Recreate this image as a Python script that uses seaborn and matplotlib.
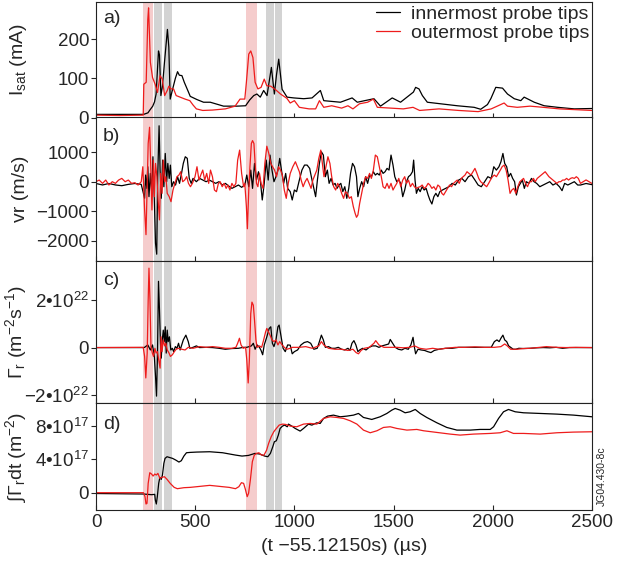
import numpy as np
import pandas as pd
import matplotlib
matplotlib.use("Agg")
import matplotlib.pyplot as plt
import seaborn as sns

# (time in us, value) pairs
ISAT_IN = [(0, 8), (120, 8), (240, 8), (262, 12), (270, 18), (286, 29), (295, 40), (303, 60),
           (315, 170), (320, 160), (327, 56), (335, 80), (345, 140), (360, 225), (367, 180),
           (374, 47), (385, 70), (400, 100), (411, 117), (420, 108), (433, 107), (445, 90),
           (466, 65), (475, 54), (508, 46), (542, 39), (576, 39), (643, 29), (711, 29), (754, 30),
           (775, 45), (795, 56), (811, 60), (828, 52), (845, 69), (862, 56), (884, 128), (899, 60),
           (910, 110), (921, 149), (938, 72), (963, 52), (997, 50), (1047, 48), (1089, 50),
           (1131, 69), (1148, 43), (1232, 39), (1291, 50), (1317, 39), (1401, 48), (1434, 29),
           (1493, 50), (1535, 39), (1600, 65), (1611, 77), (1628, 73), (1645, 56), (1670, 39),
           (1737, 35), (1821, 30), (1906, 26), (1939, 21), (1973, 33), (1990, 48), (2015, 77),
           (2049, 75), (2074, 60), (2108, 48), (2141, 43), (2158, 52), (2209, 39), (2259, 30),
           (2327, 26), (2411, 22), (2500, 23)]
ISAT_OUT = [(0, 6), (120, 5), (238, 6), (241, 85), (253, 90), (261, 250), (265, 280), (274, 141),
            (285, 102), (298, 85), (310, 64), (323, 107), (334, 98), (346, 56), (359, 69), (367, 80),
            (378, 73), (391, 73), (404, 56), (424, 52), (449, 47), (473, 43), (489, 32), (506, 22),
            (538, 18), (587, 19), (652, 22), (701, 29), (726, 47), (750, 47), (758, 90), (770, 162),
            (780, 170), (791, 153), (802, 90), (816, 73), (832, 77), (848, 98), (861, 81), (881, 80),
            (905, 71), (930, 60), (962, 49), (979, 37), (1000, 43), (1025, 26), (1074, 22),
            (1107, 22), (1126, 43), (1148, 26), (1188, 30), (1238, 24), (1270, 30), (1295, 22),
            (1328, 35), (1369, 39), (1398, 47), (1418, 26), (1484, 24), (1549, 22), (1598, 26),
            (1631, 18), (1729, 22), (1828, 18), (1926, 15), (1992, 22), (2057, 37), (2074, 29),
            (2123, 26), (2188, 29), (2254, 26), (2336, 22), (2500, 18)]

VR_IN = [(0, -60), (33, -110), (65, -60), (98, -110), (130, -135), (163, -90), (196, -60), (228, -90),
         (245, -560), (250, 225), (256, -225), (261, 505), (267, -505), (274, 280), (281, -390),
         (287, 843), (294, -618), (300, -2080), (306, -2450), (311, 170), (318, 1890), (323, 393),
         (329, -560), (336, 730), (342, -170), (349, 955), (356, 0), (362, 618), (369, 112),
         (375, 560), (382, -170), (391, 0), (401, -112), (411, 170), (421, -56), (431, 280),
         (440, 618), (450, 843), (460, 790), (470, 112), (480, -56), (489, 112), (506, 0),
         (522, 112), (538, 56), (555, 0), (571, 56), (587, 0), (603, -56), (620, 0), (636, -112),
         (652, -56), (669, -146), (685, -225), (701, -169), (718, -112), (734, -190), (750, -112),
         (760, 225), (770, -169), (780, 393), (789, -225), (799, 618), (809, 56), (819, 337),
         (829, 0), (838, -618), (848, -56), (858, 730), (868, 56), (877, 900), (887, 393), (897, 0),
         (907, 169), (917, 393), (926, 787), (936, 337), (946, -56), (956, 280), (966, -225),
         (979, -337), (989, -618), (1000, -281), (1011, -337), (1025, 56), (1038, 393), (1051, 562),
         (1064, 562), (1077, 450), (1087, 112), (1098, -225), (1107, -506), (1116, 56), (1126, 618),
         (1136, 1011), (1146, 900), (1156, 169), (1166, 393), (1175, -56), (1185, 112), (1195, -112),
         (1205, -56), (1215, -225), (1225, -112), (1234, -56), (1244, -337), (1254, -169),
         (1264, -562), (1274, -225), (1283, 281), (1293, 618), (1303, 506), (1313, 169), (1320, -506),
         (1329, -225), (1339, 0), (1349, -169), (1359, 169), (1369, -56), (1379, 225), (1388, 169),
         (1398, 337), (1408, 225), (1418, 281), (1428, 225), (1438, 393), (1447, 281), (1457, 337),
         (1467, 450), (1477, 393), (1487, 900), (1497, 562), (1506, 169), (1516, 0), (1526, 56),
         (1536, -56), (1546, -506), (1556, -281), (1565, 0), (1575, 169), (1585, 225), (1595, 337),
         (1601, 730), (1608, 56), (1615, -393), (1624, -225), (1634, -337), (1644, -169),
         (1654, -281), (1664, -225), (1674, -450), (1683, -618), (1693, -753), (1703, -506),
         (1713, -393), (1723, -506), (1733, -337), (1746, -281), (1762, -225), (1779, -169),
         (1795, -56), (1811, -112), (1828, 56), (1844, 112), (1860, 0), (1877, 169), (1893, 225),
         (1910, 56), (1926, -112), (1942, -169), (1959, 0), (1975, 169), (1992, 112), (2005, 506),
         (2018, 393), (2031, 506), (2041, 675), (2051, 955), (2060, 618), (2070, 506), (2080, 169),
         (2090, 281), (2100, 112), (2110, 0), (2119, -450), (2129, -169), (2139, -56), (2149, 56),
         (2159, -225), (2169, 0), (2182, -56), (2195, 112), (2208, 0), (2221, -56), (2237, -169),
         (2254, -112), (2270, -56), (2287, 0), (2303, -112), (2319, -56), (2336, -169), (2349, -303),
         (2362, -56), (2378, -112), (2395, -56), (2411, 0), (2428, -112), (2442, -112), (2470, -60),
         (2500, -100)]
VR_OUT = [(0, 0), (16, 56), (33, -56), (49, 56), (65, -112), (82, 0), (98, -56), (114, 56), (130, 112),
          (147, 0), (163, 56), (179, -56), (196, -34), (212, -112), (228, 0), (236, 505), (245, -955),
          (252, -1790), (257, -393), (263, 1290), (270, 1840), (276, 505), (282, -955), (289, 730),
          (294, -505), (300, 618), (307, 169), (313, -618), (320, -1290), (326, 281), (333, -393),
          (339, 730), (346, 0), (352, 169), (359, -393), (369, -506), (378, -675), (388, -281),
          (398, -56), (408, 169), (418, 225), (427, 337), (437, 0), (447, 56), (457, 169), (466, -56),
          (476, -169), (486, -56), (499, 169), (509, 506), (519, 56), (528, 225), (538, 393), (548, 56),
          (558, 281), (568, -56), (577, 393), (587, 169), (597, -281), (607, -337), (617, -56),
          (626, 0), (636, -169), (646, -56), (656, -225), (665, -112), (675, -281), (685, -56),
          (695, -169), (705, -56), (714, 730), (724, 1068), (734, 281), (744, -169), (750, -56),
          (758, -843), (763, -1590), (770, -281), (776, 506), (783, 1290), (789, 1390), (796, 1290),
          (802, 618), (809, -56), (816, -169), (824, 281), (832, -56), (842, -225), (851, 618),
          (861, 1200), (871, 955), (881, 618), (890, 506), (900, 393), (910, 169), (920, 506),
          (930, 393), (939, 225), (949, -281), (959, -562), (969, -56), (979, 281), (992, 506),
          (1005, 675), (1015, 506), (1025, 337), (1034, 56), (1044, -169), (1054, 0), (1064, 112),
          (1074, -56), (1084, -225), (1093, 56), (1103, 225), (1113, 393), (1123, 787), (1133, 1068),
          (1139, 730), (1149, 169), (1159, 506), (1169, 843), (1179, 618), (1188, 169), (1198, -169),
          (1208, -281), (1218, -56), (1228, -169), (1238, -393), (1248, -562), (1257, -337),
          (1267, -393), (1277, -562), (1287, -506), (1297, -843), (1306, -1068), (1313, -1203),
          (1320, -1124), (1329, -731), (1339, -393), (1349, -56), (1359, 169), (1369, 112),
          (1379, 281), (1388, 112), (1398, 393), (1408, 900), (1418, 843), (1428, 506), (1438, 169),
          (1447, -169), (1457, -225), (1467, -56), (1477, -225), (1487, -56), (1497, -281),
          (1506, -169), (1516, -56), (1526, 112), (1536, -169), (1546, 56), (1556, 169), (1565, -56),
          (1575, 56), (1585, -169), (1595, -56), (1605, -169), (1614, -225), (1624, -190),
          (1634, -169), (1644, -112), (1654, -225), (1664, -169), (1674, -56), (1683, -112),
          (1693, -225), (1703, -169), (1713, -281), (1723, -112), (1733, -169), (1743, -393),
          (1752, -450), (1762, -337), (1772, -225), (1782, -112), (1792, -169), (1802, -56),
          (1811, 0), (1821, 56), (1831, -56), (1841, 112), (1851, 169), (1860, 225), (1870, 337),
          (1880, 281), (1890, 225), (1900, 337), (1910, 450), (1920, 281), (1929, 112), (1939, 0),
          (1949, -56), (1959, -112), (1969, -169), (1979, -56), (1988, 56), (1998, 169), (2008, 225),
          (2018, 169), (2028, 281), (2038, 393), (2047, 506), (2057, 562), (2067, 393), (2077, 56),
          (2087, -393), (2096, -281), (2106, -225), (2116, -393), (2126, -169), (2136, 0), (2146, 56),
          (2155, 112), (2165, -56), (2175, -169), (2185, 0), (2195, 0), (2205, 112), (2214, 0),
          (2224, 112), (2234, 169), (2244, 225), (2254, 281), (2264, 337), (2273, 259), (2283, 169),
          (2293, 112), (2303, 56), (2313, 0), (2323, -56), (2333, 0), (2342, 0), (2352, 56),
          (2362, 56), (2372, 112), (2382, 56), (2392, 112), (2401, 135), (2411, 112), (2421, 169),
          (2431, 112), (2442, -56), (2470, 60), (2500, -60)]

# radial flux, in units of 1e22 m^-2 s^-1
FLUX_IN = [(0, 0), (240, 0), (245, 0.01), (261, 0.11), (274, -0.10), (285, 0.11), (294, -0.37),
           (300, -1.20), (305, -2.03), (310, -0.23), (315, 2.77), (320, 1.56), (325, 0.18),
           (329, -0.44), (334, 0.32), (339, 0.73), (344, 0.25), (349, 0.87), (354, -0.23), (359, 0.73),
           (364, 0.25), (370, 0.45), (377, -0.10), (385, -0.03), (391, -0.17), (400, 0.04),
           (408, -0.03), (416, 0.18), (424, -0.10), (432, 0.11), (440, 0.32), (453, 0.52), (465, 0.25),
           (473, -0.03), (489, 0.01), (506, 0.07), (522, 0), (555, 0.01), (587, 0), (620, -0.03),
           (652, -0.07), (685, -0.04), (718, -0.03), (742, 0.01), (760, 0.01), (783, 0.07),
           (793, 0.18), (802, -0.07), (812, 0.11), (824, 0.01), (832, -0.12), (840, -0.30),
           (848, 0.11), (861, 0.45), (873, 0.80), (881, 0.87), (889, 0.18), (897, 0.04), (907, 0.32),
           (917, 0.87), (923, 0.94), (933, 0.45), (943, -0.03), (954, -0.17), (966, 0.11), (979, 0.10),
           (989, -0.26), (1000, -0.17), (1016, -0.10), (1033, 0.11), (1049, 0.21), (1066, 0.25),
           (1082, 0.18), (1098, -0.07), (1115, -0.03), (1126, 0.25), (1136, 0.52), (1146, 0.32),
           (1156, 0.01), (1172, 0.04), (1188, -0.03), (1205, -0.03), (1221, 0.01), (1238, -0.07),
           (1254, -0.10), (1270, -0.03), (1280, -0.12), (1290, 0.18), (1300, 0.29), (1310, 0.11),
           (1320, -0.17), (1329, -0.10), (1344, -0.03), (1361, -0.10), (1377, 0.01), (1393, 0.07),
           (1410, 0.07), (1426, 0.01), (1442, 0.07), (1459, 0.11), (1475, 0.15), (1483, 0.34),
           (1493, 0.21), (1508, 0.01), (1524, -0.07), (1541, -0.10), (1557, -0.03), (1574, -0.07),
           (1587, 0.11), (1598, 0.43), (1605, 0.01), (1611, -0.26), (1623, -0.07), (1639, -0.10),
           (1656, -0.12), (1672, -0.17), (1688, -0.21), (1705, -0.12), (1729, -0.07), (1762, -0.03),
           (1795, -0.03), (1828, 0.01), (1860, 0.01), (1893, 0.01), (1926, 0.01), (1959, 0.01),
           (1992, 0.01), (2008, 0.25), (2021, 0.32), (2032, 0.25), (2041, 0.39), (2051, 0.52),
           (2060, 0.32), (2070, 0.25), (2080, 0.07), (2090, 0.01), (2103, -0.07), (2116, -0.07),
           (2131, -0.03), (2155, -0.04), (2188, -0.03), (2221, -0.01), (2254, 0), (2287, -0.01),
           (2319, 0.01), (2352, -0.03), (2385, 0), (2442, 0), (2500, 0)]
FLUX_OUT = [(0, 0), (238, 0.01), (245, -0.37), (251, -1.27), (258, -0.23), (263, 1.97), (267, 3.32),
            (272, 1.97), (277, 0.04), (284, -0.23), (290, -0.37), (297, -0.03), (303, -0.23),
            (310, -0.17), (316, -0.51), (323, -0.86), (328, 0.45), (333, -0.17), (339, 0.32),
            (346, 0.07), (352, 0.18), (359, -0.10), (367, -0.21), (375, -0.37), (385, -0.30),
            (395, -0.17), (404, -0.07), (416, -0.03), (432, -0.07), (449, -0.10), (465, 0.01),
            (489, -0.03), (522, 0.04), (555, 0.01), (587, 0.04), (620, 0.01), (652, -0.03), (685, -0.03),
            (705, 0.01), (714, 0.18), (723, 0.39), (731, 0.11), (742, -0.03), (754, 0.01), (760, -0.51),
            (767, -1.48), (773, -0.51), (780, 1.42), (786, 1.90), (793, 1.77), (799, 1.14), (806, 0.32),
            (812, 0.01), (824, 0.07), (835, 0.01), (845, 0.32), (855, 0.66), (861, 0.80), (869, 0.66),
            (877, 0.52), (887, 0.32), (897, 0.25), (907, 0.32), (917, 0.11), (926, 0.25), (938, 0.11),
            (949, 0.01), (962, -0.07), (979, -0.03), (990, 0.01), (1000, 0.01), (1025, 0.01),
            (1057, 0.04), (1090, -0.03), (1123, 0.07), (1136, 0.25), (1148, 0.11), (1172, -0.03),
            (1205, -0.07), (1238, -0.07), (1270, -0.12), (1295, -0.07), (1311, -0.21), (1323, -0.26),
            (1336, -0.12), (1352, -0.03), (1377, 0.01), (1401, 0.18), (1410, 0.29), (1426, 0.11),
            (1451, 0.01), (1483, 0.01), (1516, 0.01), (1549, -0.01), (1582, 0.01), (1606, 0.07),
            (1631, -0.03), (1664, -0.07), (1697, -0.03), (1729, -0.07), (1762, -0.03), (1811, 0.01),
            (1860, 0.01), (1910, 0.03), (1959, 0.01), (2008, 0.01), (2041, 0.04), (2060, 0.15),
            (2073, 0.07), (2090, -0.07), (2123, -0.07), (2155, -0.04), (2188, -0.03), (2237, 0.01),
            (2270, 0.04), (2319, 0.01), (2369, 0), (2418, 0.01), (2500, 0)]

# time-integrated flux, in units of 1e17 m^-2
FLUENCE_IN = [(0, -0.1), (239, -0.16), (280, -0.24), (296, -0.2), (299, -0.88), (304, -1.36),
              (309, -0.48), (316, 1.12), (322, 1.84), (329, 1.6), (335, 2.12), (342, 3.52), (348, 4.12),
              (358, 4.32), (369, 4.24), (386, 4.12), (402, 3.92), (418, 3.68), (430, 3.84), (443, 4.4),
              (456, 4.8), (475, 4.84), (508, 4.88), (573, 4.92), (638, 4.8), (703, 4.52), (736, 4.4),
              (769, 4.48), (801, 4.72), (826, 4.64), (850, 4.4), (866, 4.32), (879, 4.72), (891, 5.52),
              (899, 6.12), (909, 6.24), (919, 6.92), (928, 7.72), (940, 8.0), (951, 8.12), (964, 7.92),
              (970, 8.24), (987, 8.0), (1004, 7.72), (1029, 7.4), (1046, 7.72), (1071, 8.24),
              (1088, 8.12), (1113, 8.4), (1130, 8.32), (1147, 8.92), (1167, 9.2), (1197, 9.32),
              (1231, 9.12), (1264, 9.2), (1298, 9.32), (1323, 9.52), (1348, 9.04), (1390, 8.8),
              (1432, 9.12), (1466, 9.52), (1491, 9.92), (1508, 10.12), (1533, 9.92), (1558, 9.6),
              (1583, 9.72), (1609, 10.0), (1634, 9.52), (1667, 9.04), (1718, 8.4), (1768, 7.84),
              (1819, 7.52), (1886, 7.52), (1936, 7.6), (1987, 7.6), (2004, 7.92), (2029, 8.92),
              (2054, 9.72), (2079, 10.0), (2113, 9.72), (2155, 9.6), (2239, 9.52), (2323, 9.44),
              (2407, 9.32), (2500, 9.12)]
FLUENCE_OUT = [(0, 0), (239, 0), (247, -0.48), (252, -1.36), (257, -1.28), (263, 1.12), (271, 2.4),
               (280, 2.24), (288, 2.0), (296, 2.24), (304, 2.12), (312, 2.32), (322, 1.72), (332, 1.84),
               (345, 1.92), (358, 1.6), (374, 1.12), (394, 0.64), (410, 0.48), (443, 0.6), (475, 0.64),
               (508, 0.72), (540, 0.8), (573, 0.88), (606, 0.8), (638, 0.72), (671, 0.64), (703, 0.48),
               (720, 0.72), (733, 1.2), (744, 1.12), (753, 0.4), (762, -0.48), (769, -0.08), (778, 1.52),
               (788, 3.72), (798, 4.52), (809, 4.72), (821, 4.8), (834, 4.52), (847, 4.52), (860, 5.12),
               (870, 5.92), (883, 6.72), (896, 7.32), (909, 7.72), (923, 8.12), (940, 8.24), (956, 8.2),
               (979, 8.0), (1012, 7.92), (1046, 8.24), (1080, 8.32), (1113, 8.24), (1147, 8.92),
               (1180, 9.12), (1214, 9.04), (1248, 8.92), (1281, 8.64), (1315, 8.24), (1348, 7.52),
               (1382, 7.2), (1416, 7.44), (1449, 7.84), (1483, 7.92), (1516, 7.72), (1567, 7.52),
               (1617, 7.6), (1651, 7.44), (1718, 7.24), (1785, 7.04), (1835, 6.92), (1903, 7.04),
               (1987, 7.12), (2037, 7.2), (2071, 7.44), (2104, 7.12), (2155, 7.12), (2239, 7.04),
               (2323, 7.2), (2407, 7.28), (2500, 7.32)]

PINK_SPANS = [(239, 286), (754, 811)]
GRAY_SPANS = [(294, 332), (343, 382), (859, 897), (902, 939)]
X_TICKS = [0, 500, 1000, 1500, 2000, 2500]

INNER = "innermost probe tips"
OUTER = "outermost probe tips"
PALETTE = {INNER: "black", OUTER: "#ee1c1c"}
PINK = "#f5cccc"
GRAY = "#d3d3d3"


def to_frame(inner, outer):
    a = pd.DataFrame(inner, columns=["t", "value"]).assign(probe=INNER)
    b = pd.DataFrame(outer, columns=["t", "value"]).assign(probe=OUTER)
    return pd.concat([a, b], ignore_index=True)


sns.set_style("ticks")
plt.rcParams.update({
    "font.family": ["Liberation Sans", "DejaVu Sans"],
    "mathtext.fontset": "custom",
    "mathtext.rm": "Liberation Sans",
    "mathtext.it": "Liberation Sans:italic",
    "mathtext.bf": "Liberation Sans:bold",
    "mathtext.sf": "Liberation Sans",
    "axes.linewidth": 0.8,
    "axes.edgecolor": "#222222",
})

fig = plt.figure(figsize=(6.28, 5.67), dpi=100)
W, H = 628, 567


def add_panel(top, bot):
    return fig.add_axes([96 / W, 1 - bot / H, 496 / W, (bot - top) / H])


ax_a = add_panel(2, 117.5)
ax_b = add_panel(117.5, 261)
ax_c = add_panel(261, 403.3)
ax_d = add_panel(403.3, 510)

panels = [
    (ax_a, ISAT_IN, ISAT_OUT, (0, 295), [0, 100, 200], ["0", "100", "200"],
     r"I$_{\rm sat}$ (mA)", "a)", 8),
    (ax_b, VR_IN, VR_OUT, (-2680, 2170), [-2000, -1000, 0, 1000],
     ["\u22122000", "\u22121000", "0", "1000"], "vr (m/s)", "b)", 11),
    (ax_c, FLUX_IN, FLUX_OUT, (-2.33, 3.62), [-2, 0, 2],
     ["\u22122\u202210$^{22}$", "0", "2\u202210$^{22}$"],
     r"$\Gamma_{\rm r}$ (m$^{-2}$s$^{-1}$)", "c)", 11),
    (ax_d, FLUENCE_IN, FLUENCE_OUT, (-2.08, 10.74), [0, 4, 8],
     ["0", "4\u202210$^{17}$", "8\u202210$^{17}$"],
     r"$\int\Gamma_{\rm r}$dt (m$^{-2}$)", "d)", 13),
]

for ax, inner, outer, ylim, yt, ytl, ylabel, letter, off in panels:
    for lo, hi in PINK_SPANS:
        ax.axvspan(lo, hi, color=PINK, lw=0, zorder=0)
    for lo, hi in GRAY_SPANS:
        ax.axvspan(lo, hi, color=GRAY, lw=0, zorder=0)
    df = to_frame(inner, outer)
    sns.lineplot(data=df, x="t", y="value", hue="probe", palette=PALETTE,
                 estimator=None, sort=False, lw=0.9, ax=ax, legend=(ax is ax_a))
    ax.set_xlim(0, 2500)
    ax.set_ylim(*ylim)
    ax.set_xticks(X_TICKS)
    ax.set_yticks(yt)
    ax.set_yticklabels(ytl)
    ax.tick_params(axis="y", direction="out", length=3.5, width=0.8, pad=1.5, labelsize=13.5)
    ax.tick_params(axis="x", direction="in", length=3.5, width=0.8, pad=3, labelsize=13.5,
                   labelbottom=(ax is ax_d))
    ax.set_ylabel(ylabel, fontsize=14)
    ax.yaxis.set_label_coords(-0.135, 0.5)
    ax.set_xlabel("")
    ax.annotate(letter, xy=(0, 1), xycoords="axes fraction", xytext=(7, -off),
                textcoords="offset pixels", ha="left", va="top", fontsize=14)

handles, labels = ax_a.get_legend_handles_labels()
ax_a.legend(handles, labels, loc="upper right", bbox_to_anchor=(1.0, 1.0), frameon=False,
            fontsize=14, handlelength=1.25, handletextpad=0.55, labelspacing=0.1,
            borderpad=0.15, borderaxespad=0)

ax_d.set_xlabel("(t \u221255.12150s) (\u00b5s)", fontsize=14, labelpad=5)
fig.text(602 / W, 1 - 476 / H, "JG04.430-8c", rotation=90, ha="center", va="center", fontsize=7.5)

fig.savefig("out.png", dpi=100)
